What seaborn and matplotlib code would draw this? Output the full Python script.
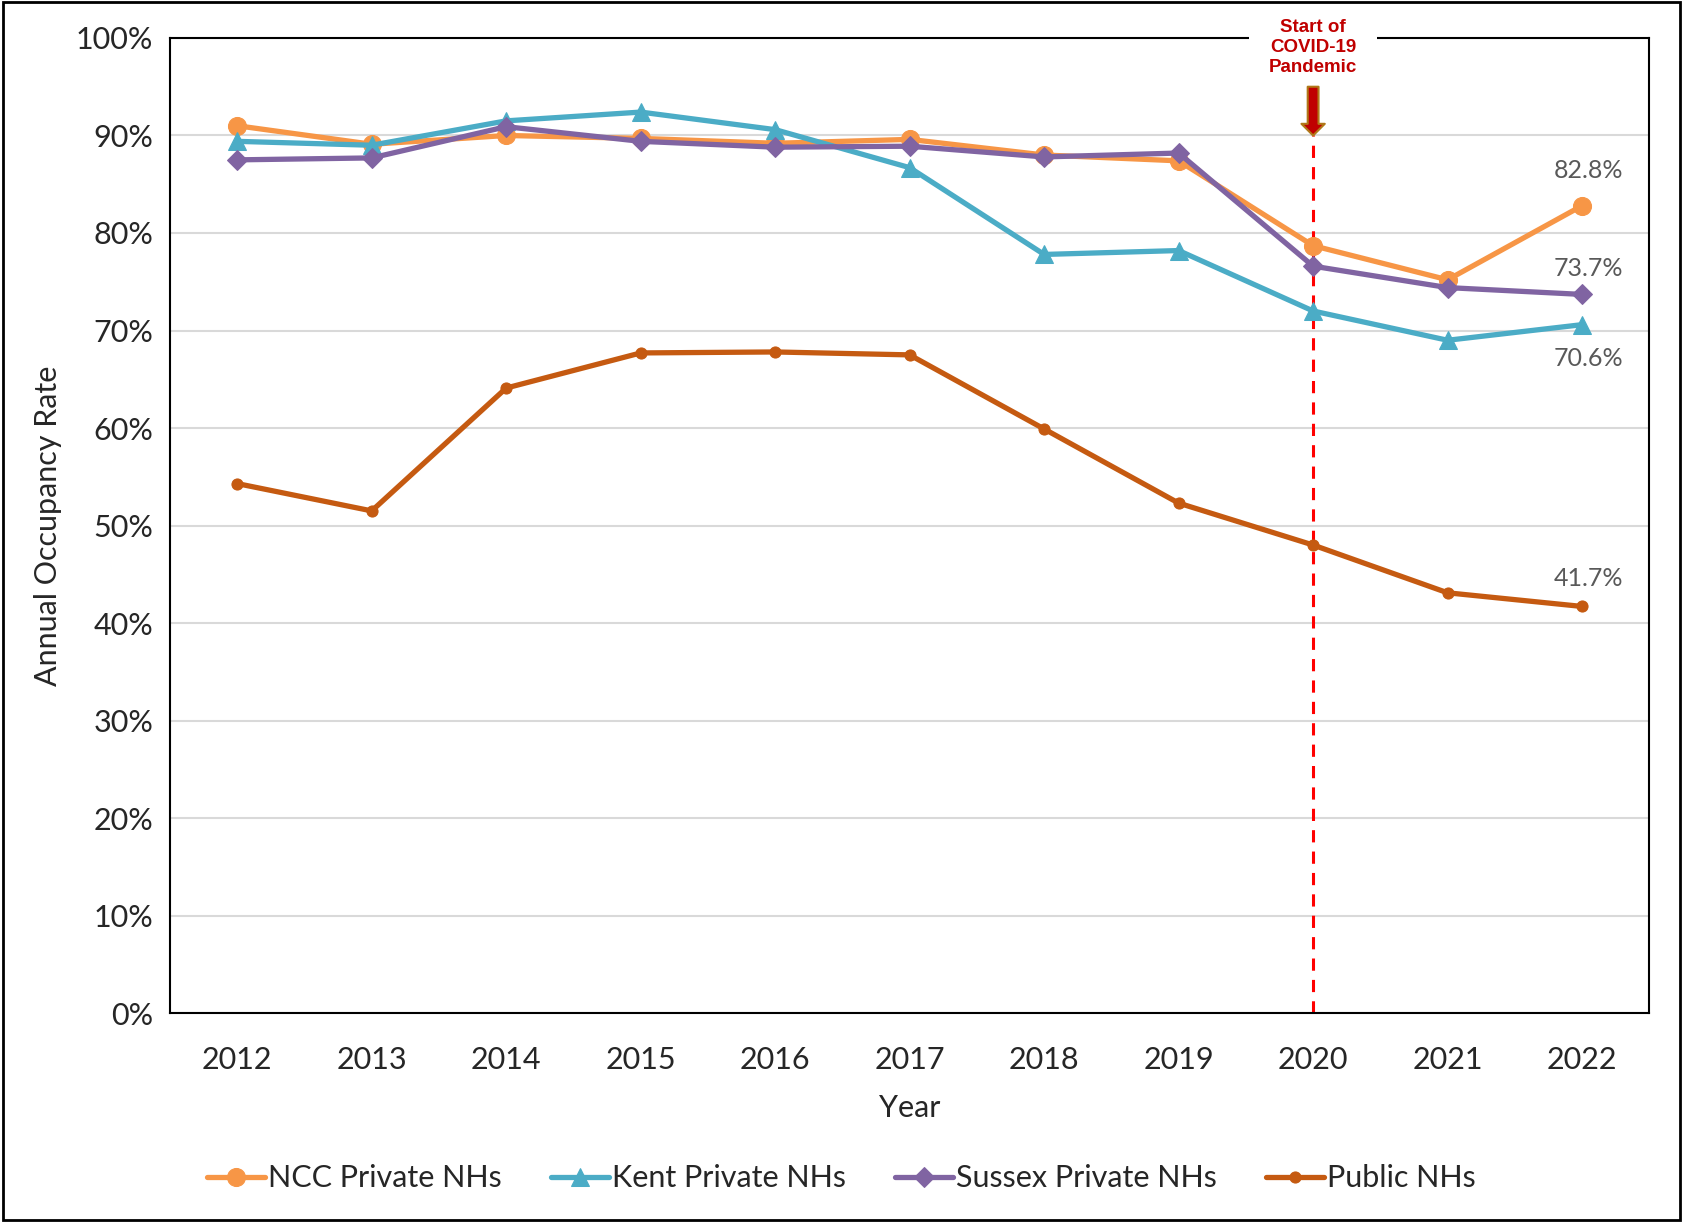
import matplotlib
matplotlib.use("Agg")
import matplotlib.pyplot as plt
import seaborn as sns
import pandas as pd
from matplotlib.patches import Rectangle

# ==========================
# Data
# ==========================

years = ["2012", "2013", "2014", "2015", "2016", "2017",
         "2018", "2019", "2020", "2021", "2022"]

ncc = [91.0, 89.1, 90.0, 89.7, 89.2, 89.6, 88.0, 87.4, 78.7, 75.2, 82.8]
kent = [89.4, 89.0, 91.5, 92.4, 90.6, 86.7, 77.8, 78.2, 72.0, 69.0, 70.6]
sussex = [87.5, 87.7, 90.9, 89.4, 88.8, 88.9, 87.8, 88.2, 76.6, 74.4, 73.7]
public = [54.3, 51.5, 64.1, 67.7, 67.8, 67.5, 59.9, 52.3, 48.0, 43.1, 41.7]

series_names = ["NCC Private NHs", "Kent Private NHs",
                "Sussex Private NHs", "Public NHs"]

# ==========================
# Style
# ==========================

sns.set_theme(style="white")
plt.rcParams["font.family"] = ["Lato", "DejaVu Sans"]

colors = ["#F79646", "#4BACC6", "#8064A2", "#C55A11"]
markers = ["o", "^", "D", "o"]
msizes = [13, 13, 10, 8]

fig = plt.figure(figsize=(16.83, 12.25), dpi=100)
ax = fig.add_axes([0.101, 0.173, 0.879, 0.796])

x = list(range(len(years)))

for name, vals, c, m, ms in zip(series_names, [ncc, kent, sussex, public],
                                colors, markers, msizes):
    sns.lineplot(x=x, y=vals, ax=ax, color=c, marker=m, markersize=ms,
                 markeredgecolor=c, linewidth=3.8, label=name)

# ==========================
# Axes
# ==========================

ax.set_xlim(-0.5, len(years) - 0.5)
ax.set_ylim(0, 100)
ax.set_xticks(x)
ax.set_xticklabels(years)
ax.set_yticks(range(0, 101, 10))
ax.set_yticklabels([f"{v}%" for v in range(0, 101, 10)])
ax.tick_params(axis="x", labelsize=22, length=0, pad=24)
ax.tick_params(axis="y", labelsize=22, length=0, pad=12)

ax.yaxis.grid(True, color="#D9D9D9", linewidth=1.5)
ax.set_axisbelow(True)
for sp in ax.spines.values():
    sp.set_color("black")
    sp.set_linewidth(1.5)

ax.set_xlabel("Year", fontsize=22, labelpad=14)
ax.set_ylabel("Annual Occupancy Rate", fontsize=22, labelpad=10)

# ==========================
# COVID marker
# ==========================

idx_2020 = years.index("2020")
ax.axvline(idx_2020, ymin=0, ymax=0.90, color="red", linestyle=(0, (4, 3)),
           linewidth=2.2, zorder=1)

ax.text(idx_2020, 99.0, "Start of\nCOVID-19\nPandemic", ha="center",
        va="center", color="#C00000", fontsize=13.5, fontweight="bold",
        family=["Liberation Sans", "DejaVu Sans"], linespacing=1.25,
        bbox=dict(facecolor="white", edgecolor="none", pad=14),
        zorder=10, clip_on=False)

ax.annotate("", xy=(idx_2020, 90), xytext=(idx_2020, 95.0),
            arrowprops=dict(arrowstyle="simple,head_width=1.4,head_length=0.7,tail_width=0.65",
                            fc="#C00000", ec="#B07818", lw=1.5,
                            shrinkA=0, shrinkB=0),
            zorder=11)

# ==========================
# Data labels
# ==========================

last = len(years) - 1
lab_kw = dict(ha="center", fontsize=18, color="#595959")
ax.text(last + 0.05, ncc[-1] + 2.8, f"{ncc[-1]:.1f}%", **lab_kw)
ax.text(last + 0.05, sussex[-1] + 1.9, f"{sussex[-1]:.1f}%", **lab_kw)
ax.text(last + 0.05, kent[-1] - 4.2, f"{kent[-1]:.1f}%", **lab_kw)
ax.text(last + 0.05, public[-1] + 2.1, f"{public[-1]:.1f}%", **lab_kw)

# ==========================
# Legend
# ==========================

handles, labels = ax.get_legend_handles_labels()
ax.get_legend().remove()
fig.legend(handles, labels, loc="center", bbox_to_anchor=(0.5, 0.038), ncol=4,
           frameon=False, fontsize=22, handlelength=1.9, handletextpad=0.1,
           columnspacing=1.6)

# outer frame
fig.patches.append(Rectangle((0.002, 0.004), 0.996, 0.994,
                             transform=fig.transFigure, fill=False,
                             edgecolor="black", linewidth=2))

plt.savefig("out.png", dpi=100)
plt.close()
